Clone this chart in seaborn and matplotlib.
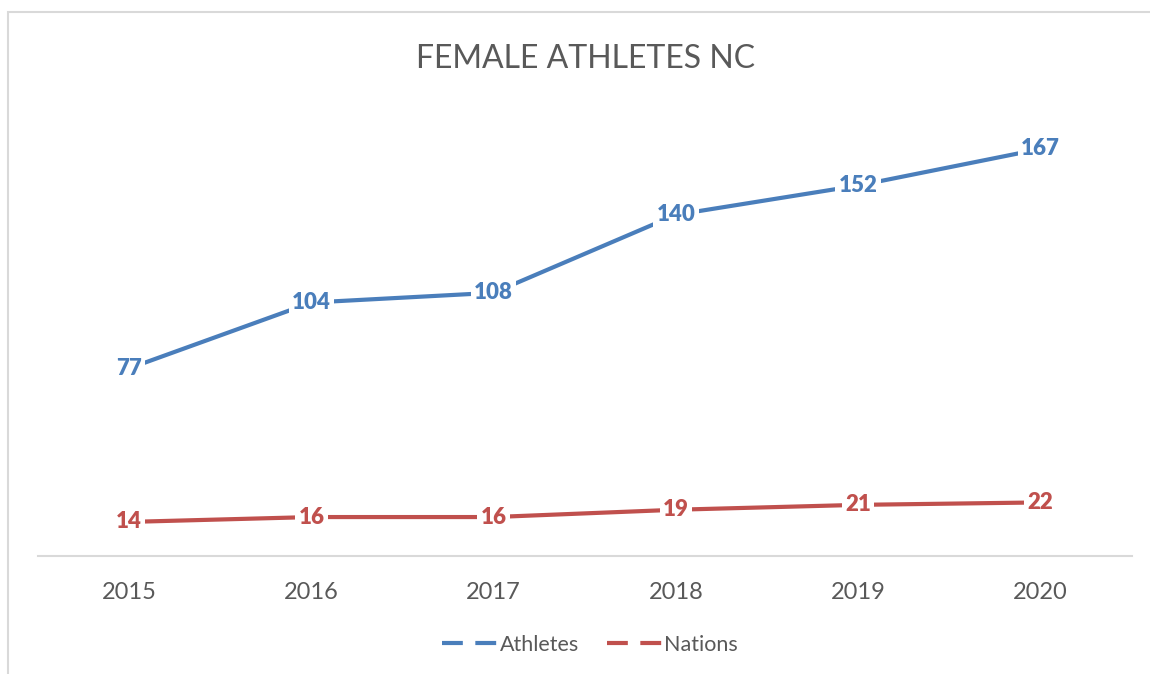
import matplotlib.pyplot as plt
import pandas as pd
import seaborn as sns
from matplotlib.lines import Line2D
from matplotlib.patches import Rectangle

# %% Data
years = [2015, 2016, 2017, 2018, 2019, 2020]
athletes = [77, 104, 108, 140, 152, 167]
nations = [14, 16, 16, 19, 21, 22]

df = pd.DataFrame({
    "year": years * 2,
    "value": athletes + nations,
    "series": ["Athletes"] * len(years) + ["Nations"] * len(years),
})

colors = {"Athletes": "#4A7EBB", "Nations": "#C0504D"}
grey = "#595959"

# %% Plot
sns.set_theme(style="white")
plt.rcParams["font.family"] = ["Lato", "DejaVu Sans"]

fig = plt.figure(figsize=(11.5, 6.74), dpi=100)
ax = fig.add_axes([0.033, 0.175, 0.951, 0.651])

sns.lineplot(data=df, x="year", y="value", hue="series", palette=colors,
             linewidth=3, legend=False, ax=ax)

# data labels sit on the points, white box hides the line underneath
for name, vals in [("Athletes", athletes), ("Nations", nations)]:
    for x, y in zip(years, vals):
        ax.text(x, y, str(y), ha="center", va="center", fontsize=16,
                fontweight="heavy", color=colors[name], zorder=5,
                bbox=dict(boxstyle="square,pad=0.15", fc="white", ec="none"))

ax.set_xlim(2014.5, 2020.5)
ax.set_ylim(0, 180)
ax.set_xticks(years)
ax.set_xticklabels([str(y) for y in years])
ax.set_yticks([])
ax.set_xlabel("")
ax.set_ylabel("")
ax.tick_params(axis="x", length=0, pad=19, labelsize=17, labelcolor=grey)
for side in ["top", "right", "left"]:
    ax.spines[side].set_visible(False)
ax.spines["bottom"].set_color("#D9D9D9")
ax.spines["bottom"].set_linewidth(1.5)

fig.text(0.509, 0.912, "FEMALE ATHLETES NC", ha="center", va="center",
         fontsize=23, color=grey, fontweight="normal")

handles = [Line2D([], [], color=colors[k], lw=3, linestyle=(0, (5, 3)))
           for k in ["Athletes", "Nations"]]
fig.legend(handles, ["Athletes", "Nations"], loc="center",
           bbox_to_anchor=(0.513, 0.043), ncol=2, frameon=False,
           fontsize=15.5, labelcolor=grey, handlelength=2.6,
           handletextpad=0.05, columnspacing=1.3)

# chart border
fig.patches.append(Rectangle((8 / 1150, -0.1), 1.2, 1.1 - 12 / 674,
                             transform=fig.transFigure, fill=False,
                             ec="#D9D9D9", lw=1.5))

fig.savefig("out.png", dpi=100)
